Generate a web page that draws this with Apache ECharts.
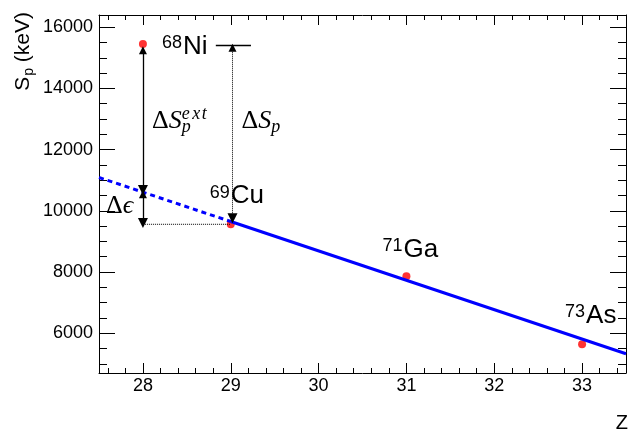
<!DOCTYPE html>
<html>
<head>
<meta charset="utf-8">
<script src="https://cdn.jsdelivr.net/npm/echarts@6/dist/echarts.min.js"></script>
<style>
  html, body { margin: 0; padding: 0; background: #fff; }
  #chart { width: 629px; height: 432px; }
</style>
</head>
<body>
<div id="chart"></div>
<script>
// Proton separation energies of the N = 40 isotones
const isotopeZ = [28, 29, 31, 33];
const isotopeSp = [15450, 9560, 7860, 5640];
const isotopeMass = ['68', '69', '71', '73'];
const isotopeSymbol = ['Ni', 'Cu', 'Ga', 'As'];

// Linear systematics through Cu, Ga, As and its extrapolation to Z = 28
const fitZ = [27.5, 29, 33.5];
const fitSp = [11090, 9650, 5330];

// Reference level drawn next to 68Ni
const levelZ = [28.83, 29.23];
const levelSp = [15400, 15400];

// Double-headed arrows: [Z, Sp at top tip, Sp at bottom tip]
const arrowExt = [28, 15250, 10680];
const arrowEps = [28, 10540, 9600];
const arrowSp = [29.02, 15330, 9760];

// Horizontal guide at the 69Cu level
const guideZ = [28, 29];
const guideSp = [9560, 9560];

// Axis ranges
const zRange = [27.5, 33.5];
const spRange = [4700, 16400];

const SANS = 'Liberation Sans';
const SERIF = 'Liberation Serif';
const MID = 0.345;   // baseline offset below the 'middle' line, in em

const chart = echarts.init(document.getElementById('chart'), null, { renderer: 'canvas' });

const black = { color: '#000', width: 1 };
function xAxisDef(pos, labels) {
  return {
    type: 'value', position: pos, min: zRange[0], max: zRange[1], splitNumber: 6,
    axisLine: { show: true, onZero: false, lineStyle: black },
    axisTick: { show: true, inside: true, length: 10, lineStyle: black },
    minorTick: { show: true, splitNumber: 5, length: 5, lineStyle: black },
    splitLine: { show: false },
    axisLabel: {
      show: labels, margin: 4, color: '#000', fontSize: 18, fontFamily: SANS,
      formatter: v => (Number.isInteger(v) ? String(v) : '')
    }
  };
}
function yAxisDef(pos, labels) {
  return {
    type: 'value', position: pos, min: spRange[0], max: spRange[1], splitNumber: 6,
    axisLine: { show: true, onZero: false, lineStyle: black },
    axisTick: { show: true, inside: true, length: 16, lineStyle: black },
    minorTick: { show: true, splitNumber: 4, length: 8, lineStyle: black },
    splitLine: { show: false },
    axisLabel: {
      show: labels, margin: 6, color: '#000', fontSize: 18, fontFamily: SANS,
      formatter: v => (v % 2000 === 0 ? String(v) : '')
    }
  };
}

const pts = (xs, ys) => xs.map((x, i) => [x, ys[i]]);
const arrowData = a => ({ coords: [[a[0], a[1]], [a[0], a[2]]] });

const arrowCommon = {
  type: 'lines', coordinateSystem: 'cartesian2d', xAxisIndex: 0, yAxisIndex: 0,
  symbol: ['triangle', 'triangle'], symbolSize: [8, 10], symbolOffset: [0, '50%'],
  silent: true, z: 4
};

chart.setOption({
  animation: false,
  backgroundColor: '#fff',
  grid: { left: 99, right: 1, top: 15, bottom: 59, containLabel: false },
  xAxis: [xAxisDef('bottom', true), xAxisDef('top', false)],
  yAxis: [yAxisDef('left', true), yAxisDef('right', false)],
  series: [
    {
      name: 'Sp', type: 'scatter', data: pts(isotopeZ, isotopeSp),
      symbol: 'circle', symbolSize: 8, itemStyle: { color: '#ff0000' }, z: 2, silent: true
    },
    {
      name: 'extrapolation', type: 'line', data: pts(fitZ.slice(0, 2), fitSp.slice(0, 2)),
      showSymbol: false, symbol: 'none', lineStyle: { color: '#0000ff', width: 3, type: [5, 4] }, z: 3, silent: true
    },
    {
      name: 'systematics', type: 'line', data: pts(fitZ.slice(1), fitSp.slice(1)),
      showSymbol: false, symbol: 'none', lineStyle: { color: '#0000ff', width: 3 }, z: 3, silent: true
    },
    {
      name: 'level', type: 'line', data: pts(levelZ, levelSp),
      showSymbol: false, symbol: 'none', lineStyle: { color: '#000', width: 1.5 }, z: 3, silent: true
    },
    {
      name: 'guide', type: 'line', data: pts(guideZ, guideSp),
      showSymbol: false, symbol: 'none', lineStyle: { color: '#000', width: 1, type: 'dotted' }, z: 3, silent: true
    },
    Object.assign({}, arrowCommon, {
      name: 'solid arrows', data: [arrowData(arrowExt), arrowData(arrowEps)],
      lineStyle: { color: '#000', width: 1.3, opacity: 1 }, itemStyle: { color: '#000' }
    }),
    Object.assign({}, arrowCommon, {
      name: 'dotted arrow', data: [arrowData(arrowSp)],
      lineStyle: { color: '#000', width: 1, type: 'dotted', opacity: 1 }, itemStyle: { color: '#000' }
    })
  ]
});

// ---- text annotations ----
const mctx = document.createElement('canvas').getContext('2d');
function fontOf(r) { return (r.italic ? 'italic ' : '') + r.size + 'px "' + r.family + '"'; }
function measure(text, font) { mctx.font = font; return mctx.measureText(text).width; }

// Lay out runs of text along a common baseline; a run with stack:true starts where the previous run started.
function textRuns(x0, base, runs) {
  const out = [];
  let cursor = x0, lastStart = x0;
  runs.forEach(r => {
    const font = fontOf(r);
    const w = measure(r.text, font);
    const start = r.stack ? lastStart : cursor + (r.gap || 0);
    out.push({
      type: 'text', x: start, y: base - (r.rise || 0) - MID * r.size, silent: true,
      style: { text: r.text, font: font, fill: '#000', align: 'left', verticalAlign: 'middle' }
    });
    if (!r.stack) lastStart = start;
    cursor = Math.max(cursor, start + w);
  });
  return { children: out, width: cursor - x0 };
}

const toPx = (z, sp) => chart.convertToPixel({ gridIndex: 0 }, [z, sp]);

const graphics = [];

// isotope labels: superscript mass number and element symbol
const labelOffset = [[19, 12], [-21, -19], [-24, -18], [-17, -19]];
isotopeZ.forEach((z, i) => {
  const p = toPx(z, isotopeSp[i]);
  const t = textRuns(p[0] + labelOffset[i][0], p[1] + labelOffset[i][1], [
    { text: isotopeMass[i], size: 18, family: SANS, rise: 6.5 },
    { text: isotopeSymbol[i], size: 26, family: SANS, gap: 1 }
  ]);
  graphics.push(...t.children);
});

// ΔS_p^ext beside the solid arrow (superscript letters spaced as math italic)
{
  const p = toPx(arrowExt[0], 12650);
  graphics.push(...textRuns(p[0] + 9, p[1], [
    { text: 'Δ', size: 26, family: SERIF },
    { text: 'S', size: 26, family: SERIF, italic: true },
    { text: 'p', size: 18, family: SERIF, italic: true, rise: -4, gap: 0 },
    { text: 'e', size: 18, family: SERIF, italic: true, rise: 9, stack: true },
    { text: 'x', size: 18, family: SERIF, italic: true, rise: 9, gap: 1.5 },
    { text: 't', size: 18, family: SERIF, italic: true, rise: 9, gap: 1.5 }
  ]).children);
}
// ΔS_p beside the dotted arrow
{
  const p = toPx(arrowSp[0], 12650);
  graphics.push(...textRuns(p[0] + 9, p[1], [
    { text: 'Δ', size: 26, family: SERIF },
    { text: 'S', size: 26, family: SERIF, italic: true },
    { text: 'p', size: 18, family: SERIF, italic: true, rise: -4, gap: 0 }
  ]).children);
}
// Δϵ left of the short arrow
{
  const p = toPx(arrowEps[0], 9860);
  graphics.push(...textRuns(p[0] - 37, p[1], [
    { text: 'Δ', size: 26, family: SERIF },
    { text: 'ϵ', size: 26, family: SERIF, italic: true }
  ]).children);
}

// axis titles
graphics.push({
  type: 'text', x: 628, y: 430 - MID * 20, silent: true,
  style: { text: 'Z', font: '20px "' + SANS + '"', fill: '#000', align: 'right', verticalAlign: 'middle' }
});
{
  const t = textRuns(0, 8, [
    { text: 'S', size: 21, family: SANS },
    { text: 'p', size: 14, family: SANS, rise: -4, gap: 1 },
    { text: ' (keV)', size: 21, family: SANS }
  ]);
  t.children.forEach(c => { c.x -= t.width; });
  graphics.push({ type: 'group', x: 22, y: 12, rotation: Math.PI / 2, children: t.children, silent: true });
}

chart.setOption({ graphic: graphics });
</script>
</body>
</html>
